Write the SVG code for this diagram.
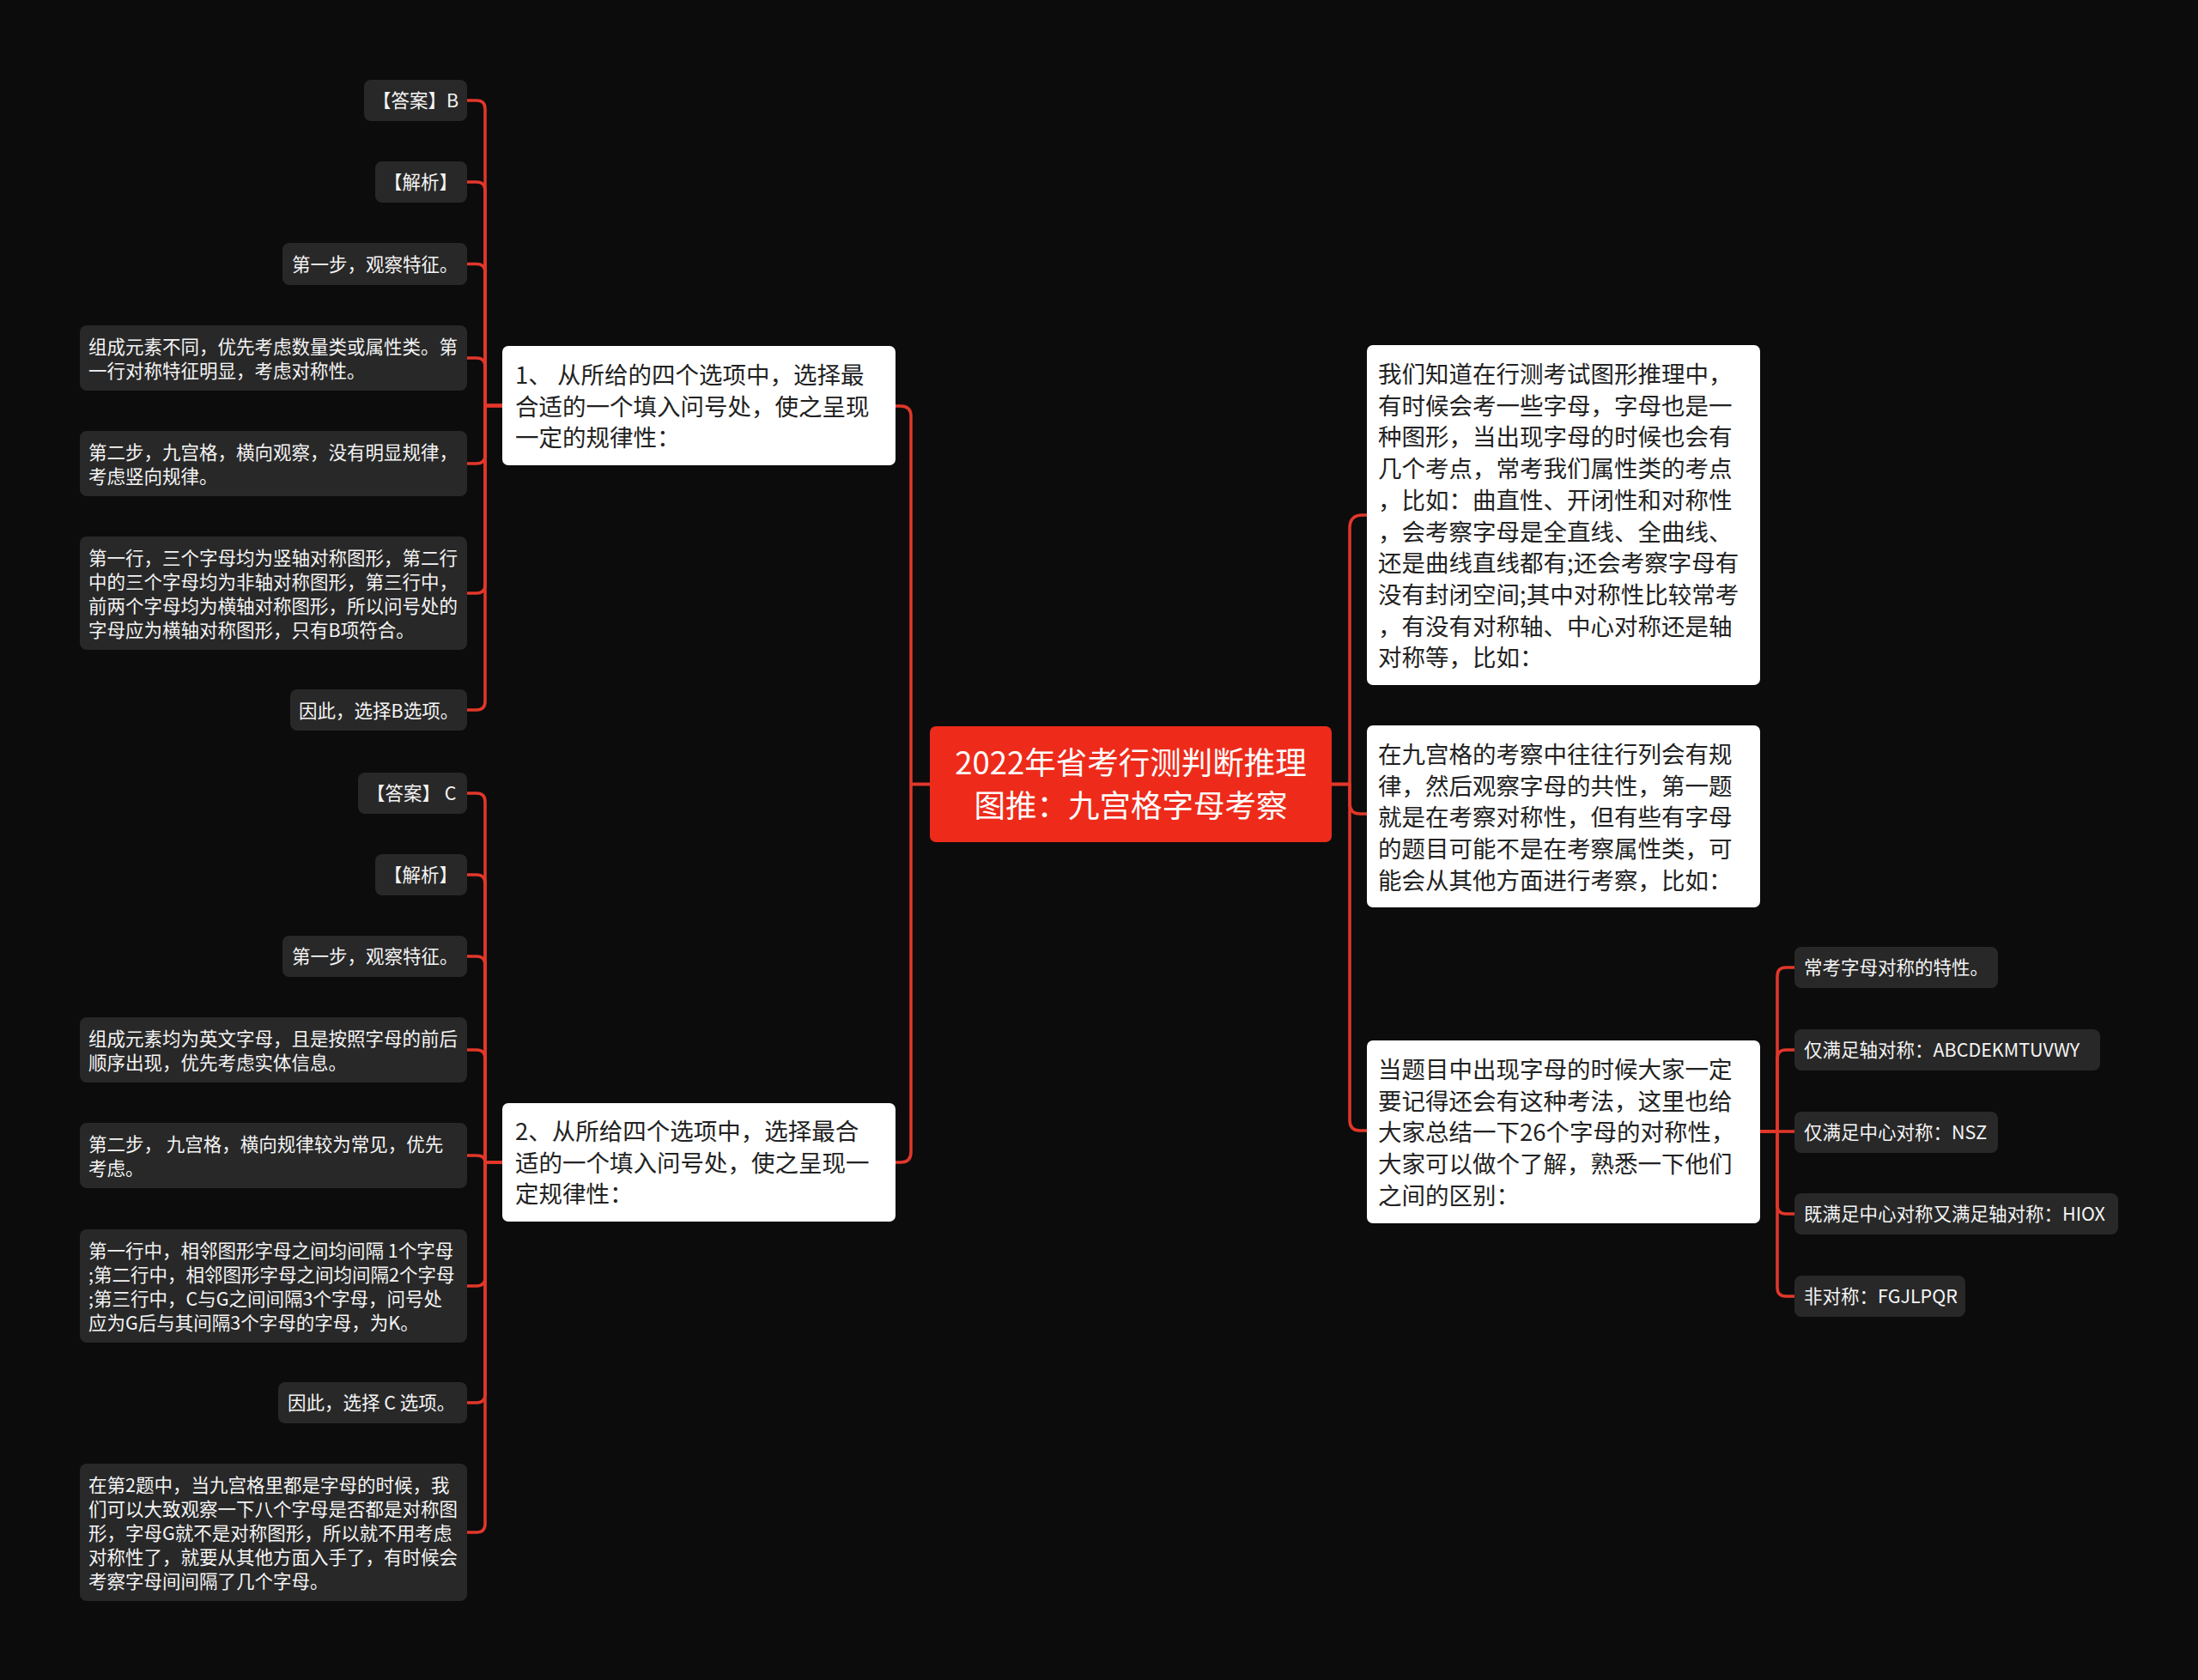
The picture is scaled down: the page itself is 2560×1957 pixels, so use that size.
<svg xmlns="http://www.w3.org/2000/svg" width="2560" height="1957" viewBox="0 0 2560 1957">
<style>
.bg{fill:#0c0c0c}
.leaf rect{fill:#282828}
.leaf text{fill:#f4f4f4;font-family:"Microsoft YaHei","Noto Sans CJK SC","Noto Sans",sans-serif;font-size:21.5px}
.main rect{fill:#ffffff}
.main text{fill:#222222;font-family:"Microsoft YaHei","Noto Sans CJK SC","Noto Sans",sans-serif;font-size:27.5px}
.root rect{fill:#ee2b1b}
.root text{fill:#ffffff;font-family:"Microsoft YaHei","Noto Sans CJK SC","Noto Sans",sans-serif;font-size:36.5px;text-anchor:middle}
#connectors path{fill:none;stroke:#e2372a;stroke-width:3.5;stroke-linecap:round;stroke-linejoin:round}
</style>
<rect class="bg" x="0" y="0" width="2560" height="1957"/>

<g id="connectors">
  <path d="M1083 913.5 H1061 V485 Q1061 473 1049 473 H1043"/>
  <path d="M1083 913.5 H1061 V1342 Q1061 1354 1049 1354 H1043"/>
  <path d="M1551 913.5 H1572 V615 Q1572 600 1587 600 H1592"/>
  <path d="M1551 913.5 H1572 V936 Q1572 948 1584 948 H1592"/>
  <path d="M1551 913.5 H1572 V1305 Q1572 1317 1584 1317 H1592"/>
  <path d="M585 472.5 H565 V127 Q565 117 555 117 H544"/>
  <path d="M585 472.5 H565 V222 Q565 212 555 212 H544"/>
  <path d="M585 472.5 H565 V317.5 Q565 307.5 555 307.5 H544"/>
  <path d="M585 472.5 H565 V427 Q565 417 555 417 H544"/>
  <path d="M585 472.5 H565 V530 Q565 540 555 540 H544"/>
  <path d="M585 472.5 H565 V681 Q565 691 555 691 H544"/>
  <path d="M585 472.5 H565 V817 Q565 827 555 827 H544"/>
  <path d="M585 1354 H565 V934 Q565 924 555 924 H544"/>
  <path d="M585 1354 H565 V1029 Q565 1019 555 1019 H544"/>
  <path d="M585 1354 H565 V1124 Q565 1114 555 1114 H544"/>
  <path d="M585 1354 H565 V1233 Q565 1223 555 1223 H544"/>
  <path d="M585 1354 H565 C565 1349 562 1346 555 1346 H544"/>
  <path d="M585 1354 H565 V1488 Q565 1498 555 1498 H544"/>
  <path d="M585 1354 H565 V1624 Q565 1634 555 1634 H544"/>
  <path d="M585 1354 H565 V1775 Q565 1785 555 1785 H544"/>
  <path d="M2050 1318 H2070 V1137 Q2070 1127 2080 1127 H2090"/>
  <path d="M2050 1318 H2070 V1233 Q2070 1223 2080 1223 H2090"/>
  <path d="M2050 1318 H2090"/>
  <path d="M2050 1318 H2070 V1404 Q2070 1414 2080 1414 H2090"/>
  <path d="M2050 1318 H2070 V1500 Q2070 1510 2080 1510 H2090"/>
</g>

<g id="root" class="root">
  <rect x="1083" y="846" width="468" height="135" rx="7"/>
  <text x="1317" y="902">2022年省考行测判断推理</text>
  <text x="1317" y="952">图推：九宫格字母考察</text>
</g>

<g id="q1" class="main">
  <rect x="585" y="403" width="458" height="139" rx="7"/>
  <text x="600" y="447">1、 从所给的四个选项中，选择最</text>
  <text x="600" y="483.5">合适的一个填入问号处，使之呈现</text>
  <text x="600" y="520">一定的规律性：</text>
</g>

<g id="q2" class="main">
  <rect x="585" y="1285" width="458" height="138" rx="7"/>
  <text x="600" y="1328">2、从所给四个选项中，选择最合</text>
  <text x="600" y="1364.5">适的一个填入问号处，使之呈现一</text>
  <text x="600" y="1401">定规律性：</text>
</g>

<g id="intro1" class="main">
  <rect x="1592" y="402" width="458" height="396" rx="7"/>
  <text x="1605" y="446">我们知道在行测考试图形推理中，</text>
  <text x="1605" y="482.7">有时候会考一些字母，字母也是一</text>
  <text x="1605" y="519.4">种图形，当出现字母的时候也会有</text>
  <text x="1605" y="556.1">几个考点，常考我们属性类的考点</text>
  <text x="1605" y="592.8">，比如：曲直性、开闭性和对称性</text>
  <text x="1605" y="629.5">，会考察字母是全直线、全曲线、</text>
  <text x="1605" y="666.2">还是曲线直线都有;还会考察字母有</text>
  <text x="1605" y="702.9">没有封闭空间;其中对称性比较常考</text>
  <text x="1605" y="739.6">，有没有对称轴、中心对称还是轴</text>
  <text x="1605" y="776.3">对称等，比如：</text>
</g>

<g id="intro2" class="main">
  <rect x="1592" y="845" width="458" height="212" rx="7"/>
  <text x="1605" y="889">在九宫格的考察中往往行列会有规</text>
  <text x="1605" y="925.7">律，然后观察字母的共性，第一题</text>
  <text x="1605" y="962.4">就是在考察对称性，但有些有字母</text>
  <text x="1605" y="999.1">的题目可能不是在考察属性类，可</text>
  <text x="1605" y="1035.8">能会从其他方面进行考察，比如：</text>
</g>

<g id="intro3" class="main">
  <rect x="1592" y="1212" width="458" height="213" rx="7"/>
  <text x="1605" y="1256">当题目中出现字母的时候大家一定</text>
  <text x="1605" y="1292.7">要记得还会有这种考法，这里也给</text>
  <text x="1605" y="1329.4">大家总结一下26个字母的对称性，</text>
  <text x="1605" y="1366.1">大家可以做个了解，熟悉一下他们</text>
  <text x="1605" y="1402.8">之间的区别：</text>
</g>

<g id="q1-answer" class="leaf">
  <rect x="424" y="93" width="120" height="48" rx="8"/>
  <text x="434" y="125">【答案】B</text>
</g>
<g id="q1-analysis" class="leaf">
  <rect x="437" y="188" width="107" height="48" rx="8"/>
  <text x="447" y="220">【解析】</text>
</g>
<g id="q1-step1" class="leaf">
  <rect x="329" y="283" width="215" height="49" rx="8"/>
  <text x="340" y="315.5">第一步，观察特征。</text>
</g>
<g id="q1-elements" class="leaf">
  <rect x="93" y="379" width="451" height="76" rx="8"/>
  <text x="103" y="411.5">组成元素不同，优先考虑数量类或属性类。第</text>
  <text x="103" y="439.5">一行对称特征明显，考虑对称性。</text>
</g>
<g id="q1-step2" class="leaf">
  <rect x="93" y="502" width="451" height="76" rx="8"/>
  <text x="103" y="534.5">第二步，九宫格，横向观察，没有明显规律，</text>
  <text x="103" y="562.5">考虑竖向规律。</text>
</g>
<g id="q1-rows" class="leaf">
  <rect x="93" y="625" width="451" height="132" rx="8"/>
  <text x="103" y="657.5">第一行，三个字母均为竖轴对称图形，第二行</text>
  <text x="103" y="685.5">中的三个字母均为非轴对称图形，第三行中，</text>
  <text x="103" y="713.5">前两个字母均为横轴对称图形，所以问号处的</text>
  <text x="103" y="741.5">字母应为横轴对称图形，只有B项符合。</text>
</g>
<g id="q1-conclusion" class="leaf">
  <rect x="338" y="803" width="206" height="48" rx="8"/>
  <text x="348" y="835.5">因此，选择B选项。</text>
</g>

<g id="q2-answer" class="leaf">
  <rect x="417" y="900" width="127" height="48" rx="8"/>
  <text x="427" y="932">【答案】 C</text>
</g>
<g id="q2-analysis" class="leaf">
  <rect x="437" y="995" width="107" height="48" rx="8"/>
  <text x="447" y="1027">【解析】</text>
</g>
<g id="q2-step1" class="leaf">
  <rect x="329" y="1090" width="215" height="48" rx="8"/>
  <text x="340" y="1122">第一步，观察特征。</text>
</g>
<g id="q2-elements" class="leaf">
  <rect x="93" y="1185" width="451" height="76" rx="8"/>
  <text x="103" y="1217.5">组成元素均为英文字母，且是按照字母的前后</text>
  <text x="103" y="1245.5">顺序出现，优先考虑实体信息。</text>
</g>
<g id="q2-step2" class="leaf">
  <rect x="93" y="1308" width="451" height="76" rx="8"/>
  <text x="103" y="1340.5">第二步， 九宫格，横向规律较为常见，优先</text>
  <text x="103" y="1368.5">考虑。</text>
</g>
<g id="q2-rows" class="leaf">
  <rect x="93" y="1432" width="451" height="132" rx="8"/>
  <text x="103" y="1464.5">第一行中，相邻图形字母之间均间隔 1个字母</text>
  <text x="103" y="1492.5">;第二行中，相邻图形字母之间均间隔2个字母</text>
  <text x="103" y="1520.5">;第三行中，C与G之间间隔3个字母，问号处</text>
  <text x="103" y="1548.5">应为G后与其间隔3个字母的字母，为K。</text>
</g>
<g id="q2-conclusion" class="leaf">
  <rect x="324" y="1610" width="220" height="48" rx="8"/>
  <text x="335" y="1642">因此，选择 C 选项。</text>
</g>
<g id="q2-note" class="leaf">
  <rect x="93" y="1705" width="451" height="160" rx="8"/>
  <text x="103" y="1737.5">在第2题中，当九宫格里都是字母的时候，我</text>
  <text x="103" y="1765.5">们可以大致观察一下八个字母是否都是对称图</text>
  <text x="103" y="1793.5">形，字母G就不是对称图形，所以就不用考虑</text>
  <text x="103" y="1821.5">对称性了，就要从其他方面入手了，有时候会</text>
  <text x="103" y="1849.5">考察字母间间隔了几个字母。</text>
</g>

<g id="sym-intro" class="leaf">
  <rect x="2090" y="1103" width="237" height="48" rx="8"/>
  <text x="2101" y="1135">常考字母对称的特性。</text>
</g>
<g id="sym-axis" class="leaf">
  <rect x="2090" y="1199" width="356" height="48" rx="8"/>
  <text x="2101" y="1231">仅满足轴对称：ABCDEKMTUVWY</text>
</g>
<g id="sym-center" class="leaf">
  <rect x="2090" y="1295" width="237" height="48" rx="8"/>
  <text x="2101" y="1327">仅满足中心对称：NSZ</text>
</g>
<g id="sym-both" class="leaf">
  <rect x="2090" y="1390" width="377" height="48" rx="8"/>
  <text x="2101" y="1422">既满足中心对称又满足轴对称：HIOX</text>
</g>
<g id="sym-none" class="leaf">
  <rect x="2090" y="1486" width="199" height="48" rx="8"/>
  <text x="2101" y="1518">非对称：FGJLPQR</text>
</g>
</svg>
